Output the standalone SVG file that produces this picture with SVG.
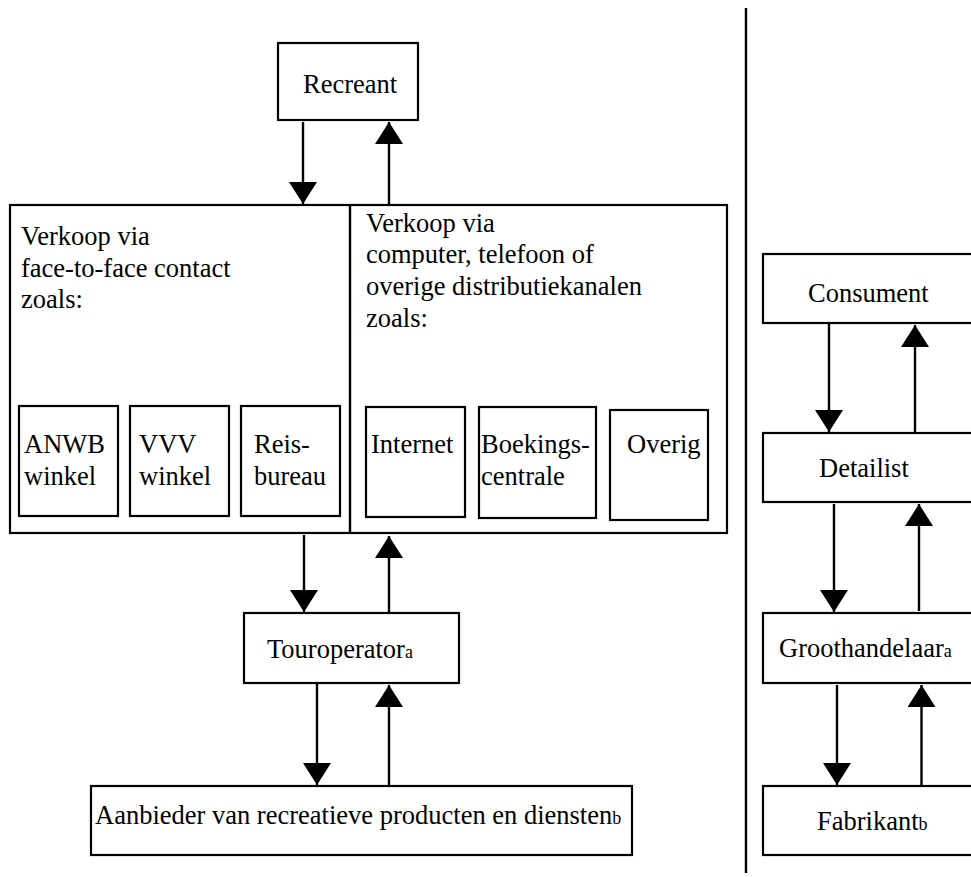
<svg xmlns="http://www.w3.org/2000/svg" width="971" height="877" viewBox="0 0 971 877">
<style>
.box{fill:#fff;stroke:#000;stroke-width:2.2}
.t{font-family:"Liberation Serif","Times New Roman",serif;font-size:26.5px;fill:#000}
.s{font-size:18px}
.ln{stroke:#000;stroke-width:2.4;fill:none}
.con line{stroke:#000;stroke-width:2.4;marker-end:url(#ah)}
</style>
<defs>
<marker id="ah" markerUnits="userSpaceOnUse" markerWidth="22" markerHeight="28" viewBox="0 0 22 28" refX="22" refY="14" orient="auto">
<path d="M0,0 L22,14 L0,28 Z" fill="#000"/>
</marker>
</defs>
<rect width="971" height="877" fill="#fff"/>
<line class="ln" x1="746" y1="8" x2="746" y2="873"/>

<g id="recreant"><rect class="box" x="278" y="43" width="140" height="77"/><text class="t" x="303" y="93">Recreant</text></g>

<g id="verkoop">
<rect class="box" x="10" y="205" width="717" height="328"/>
<line class="ln" x1="350" y1="205" x2="350" y2="533"/>
<text class="t" x="21" y="245">Verkoop via</text>
<text class="t" x="21" y="277">face-to-face contact</text>
<text class="t" x="21" y="308">zoals:</text>
<text class="t" x="366" y="232">Verkoop via</text>
<text class="t" x="366" y="263">computer, telefoon of</text>
<text class="t" x="366" y="295">overige distributiekanalen</text>
<text class="t" x="366" y="327">zoals:</text>
</g>
<g id="anwb"><rect class="box" x="19" y="406" width="99" height="110"/><text class="t" x="24" y="453">ANWB</text><text class="t" x="24" y="485">winkel</text></g>
<g id="vvv"><rect class="box" x="130" y="406" width="99" height="110"/><text class="t" x="139" y="453">VVV</text><text class="t" x="139" y="485">winkel</text></g>
<g id="reisbureau"><rect class="box" x="241" y="406" width="99" height="110"/><text class="t" x="254" y="453">Reis-</text><text class="t" x="254" y="485">bureau</text></g>
<g id="internet"><rect class="box" x="366" y="407" width="99" height="110"/><text class="t" x="371" y="453">Internet</text></g>
<g id="boekingscentrale"><rect class="box" x="479" y="407" width="117" height="111"/><text class="t" x="481" y="453">Boekings-</text><text class="t" x="481" y="485">centrale</text></g>
<g id="overig"><rect class="box" x="610" y="410" width="98" height="110"/><text class="t" x="627" y="453">Overig</text></g>

<g id="touroperator"><rect class="box" x="244" y="613" width="215" height="70"/><text class="t" x="267" y="658">Touroperator<tspan class="s">a</tspan></text></g>
<g id="aanbieder"><rect class="box" x="91" y="786" width="541" height="69"/><text class="t" x="95" y="824">Aanbieder van recreatieve producten en diensten<tspan class="s">b</tspan></text></g>

<g id="consument"><rect class="box" x="763" y="254" width="230" height="69"/><text class="t" x="808" y="302">Consument</text></g>
<g id="detailist"><rect class="box" x="763" y="433" width="230" height="69"/><text class="t" x="819" y="477">Detailist</text></g>
<g id="groothandelaar"><rect class="box" x="763" y="613" width="230" height="70"/><text class="t" x="779" y="657">Groothandelaar<tspan class="s">a</tspan></text></g>
<g id="fabrikant"><rect class="box" x="763" y="786" width="230" height="69"/><text class="t" x="817" y="830">Fabrikant<tspan class="s">b</tspan></text></g>

<g id="connectors" class="con">
<line x1="303" y1="122" x2="303" y2="204"/>
<line x1="389" y1="204" x2="389" y2="122"/>
<line x1="304" y1="535" x2="304" y2="612"/>
<line x1="389" y1="612" x2="389" y2="536"/>
<line x1="317" y1="684" x2="317" y2="785"/>
<line x1="389" y1="785" x2="389" y2="685"/>
<line x1="829" y1="324" x2="829" y2="432"/>
<line x1="915" y1="432" x2="915" y2="325"/>
<line x1="834" y1="504" x2="834" y2="612"/>
<line x1="919" y1="611" x2="919" y2="504"/>
<line x1="837" y1="685" x2="837" y2="785"/>
<line x1="921.5" y1="785" x2="921.5" y2="685"/>
</g>
</svg>
